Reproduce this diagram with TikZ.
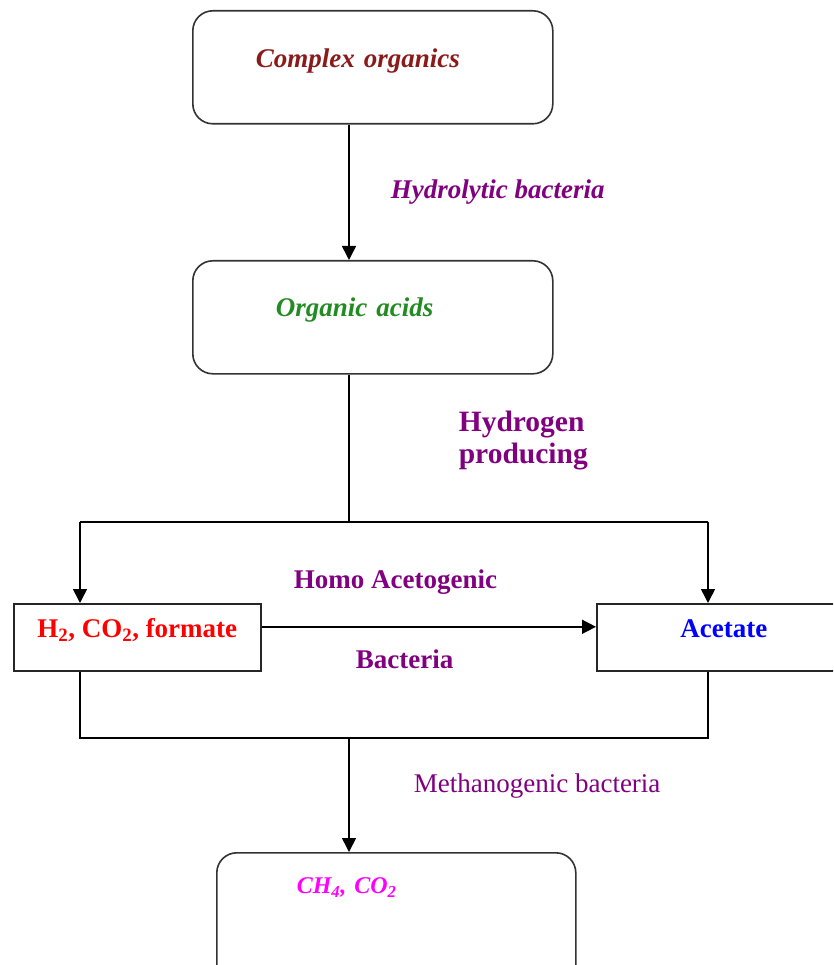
\documentclass[tikz,border=0pt]{standalone}
\usepackage{fontspec}
\setmainfont{Liberation Serif}
\usetikzlibrary{arrows.meta}

\definecolor{darkred}{RGB}{139,26,26}
\definecolor{leafgreen}{RGB}{34,139,34}
\definecolor{plum}{RGB}{128,0,128}
\definecolor{fuchsia}{RGB}{255,0,255}

\tikzset{
  roundbox/.style={draw=black!80, line width=1.6pt, rounded corners=20pt,
    inner ysep=0pt, align=left, anchor=north west},
  sqbox/.style={draw=black!85, line width=1.6pt, inner sep=0pt,
    minimum height=67pt, text height=34pt, text depth=33pt, anchor=north west},
  lbl/.style={text=plum, inner sep=0pt, anchor=base west},
  big/.style={font=\fontsize{27}{32}\selectfont},
}

\begin{document}
\begin{tikzpicture}[x=1pt, y=-1pt, line width=1.6pt, >={Triangle[length=14pt,width=14pt]}]
  \clip (0,0) rectangle (833,965);

  % Anaerobic digestion stages
  \node[roundbox, big, text=darkred, inner xsep=63pt, text width=234pt,
    text height=56.7pt, text depth=56.3pt] (cplx) at (192,10)
    {\bfseries\itshape Complex organics};
  \node[roundbox, big, text=leafgreen, inner xsep=83pt, text width=194pt,
    text height=56pt, text depth=57pt] (orgacid) at (192,260)
    {\bfseries\itshape Organic acids};
  \node[sqbox, big, text=red, minimum width=247pt] (gas) at (13,603)
    {\bfseries H\textsubscript{2}, CO\textsubscript{2}, formate};
  \node[sqbox, big, text=blue, minimum width=254pt] (acetate) at (596,603)
    {\bfseries Acetate};
  \node[roundbox, font=\fontsize{24}{29}\selectfont, text=fuchsia, inner xsep=80pt,
    text width=199pt, text height=41pt, text depth=92pt] (product) at (216,852)
    {\bfseries\itshape CH\textsubscript{4}, CO\textsubscript{2}};

  \node[lbl, big] (hydrolytic) at (390,199) {\bfseries\itshape Hydrolytic bacteria};
  \node[lbl, font=\fontsize{29.5}{32}\selectfont, align=left] (hproducing) at (458,463)
    {\bfseries Hydrogen\\\bfseries producing};
  \node[lbl, big] (homo) at (293,588) {\bfseries Homo Acetogenic};
  \node[lbl, big] (bacteria) at (355,668) {\bfseries Bacteria};
  \node[lbl, big] (methano) at (413,792) {Methanogenic bacteria};

  \coordinate (split) at (349,522);
  \coordinate (leftturn) at (80,522);
  \coordinate (rightturn) at (708,522);
  \coordinate (merge) at (349,738);
  \coordinate (leftfoot) at (80,738);
  \coordinate (rightfoot) at (708,738);

  \draw[->] (cplx.south -| split) -- (orgacid.north -| split);
  \draw (orgacid.south -| split) -- (split);
  \draw (leftturn) -- (rightturn);
  \draw[->] (leftturn) -- (leftturn |- gas.north);
  \draw[->] (rightturn) -- (rightturn |- acetate.north);
  \draw[->] ([yshift=10.5pt]gas.east) -- ([yshift=10.5pt]acetate.west);
  \draw (leftfoot |- gas.south) -- (leftfoot) -- (rightfoot) -- (rightfoot |- acetate.south);
  \draw[->] (merge) -- (product.north -| merge);

\end{tikzpicture}
\end{document}
